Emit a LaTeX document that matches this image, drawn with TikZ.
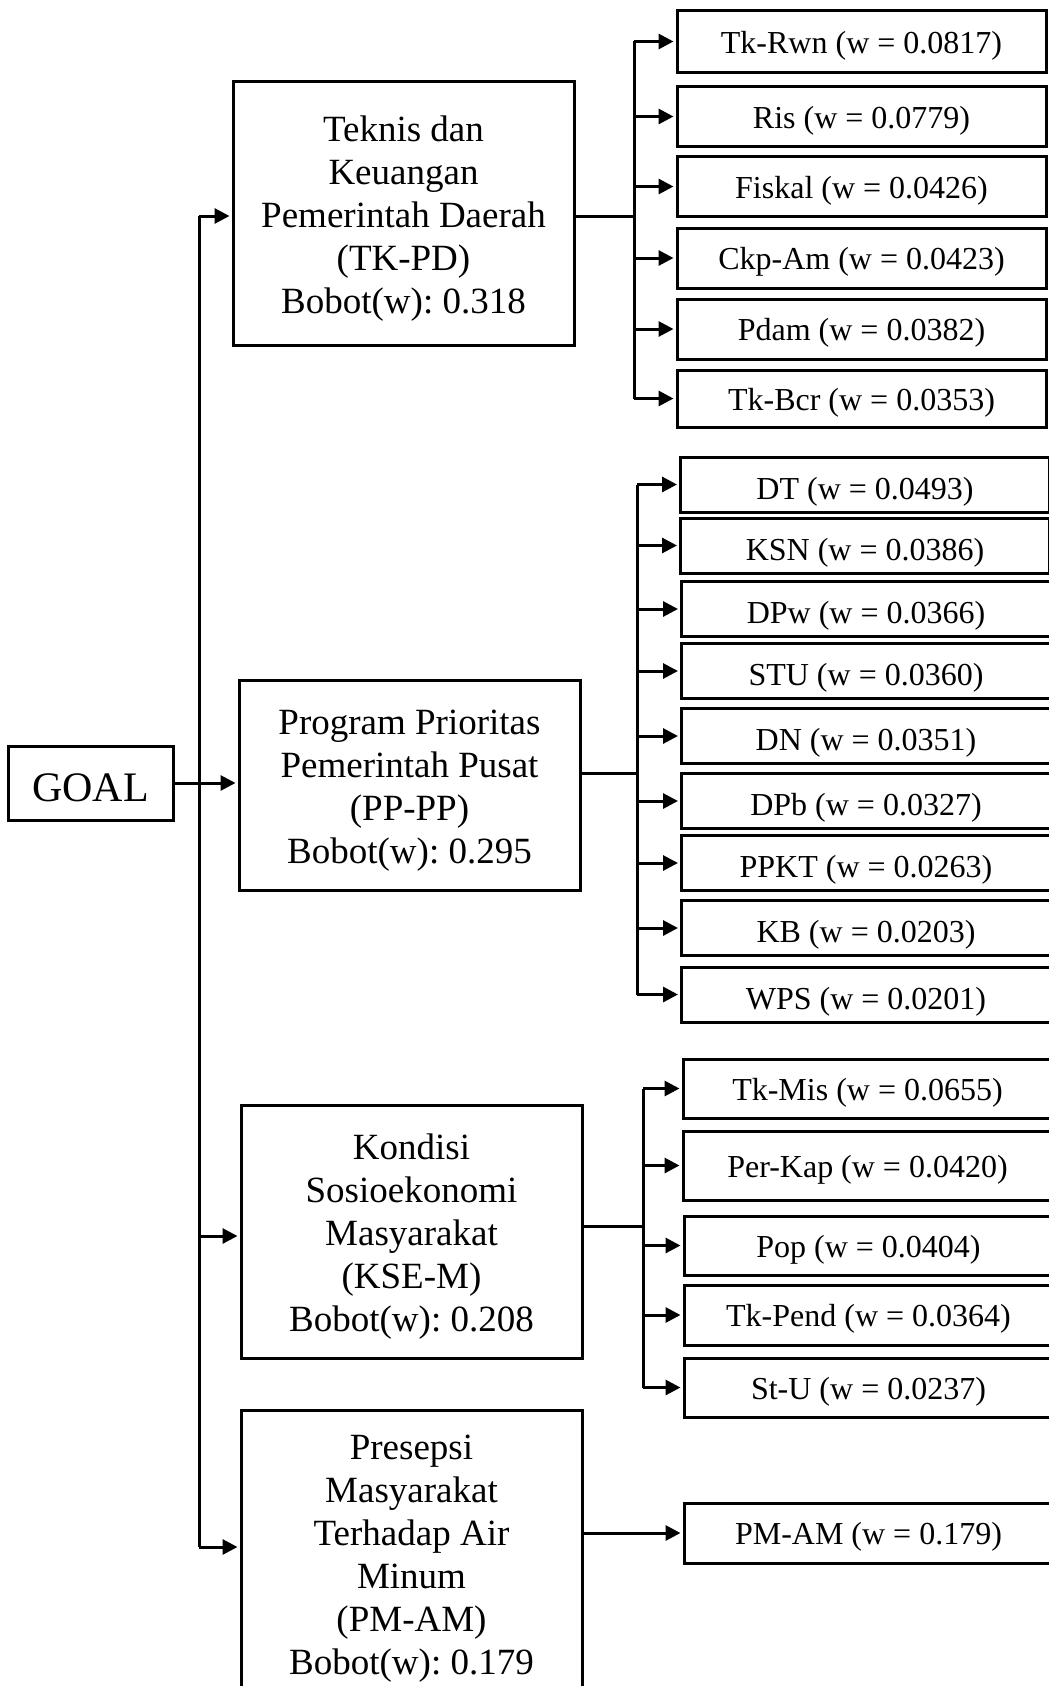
\documentclass[tikz,border=0pt]{standalone}
\usepackage{fontspec}
\setmainfont{Liberation Serif}
\usetikzlibrary{arrows.meta}
\frenchspacing
% text sits a little below the geometric centre of each box
\newcommand\lowtext[2][5pt]{\raisebox{-#1}[\height][\depth]{#2}}
\newcommand\linestack[1]{\lowtext[5.5pt]{\begin{tabular}{@{}c@{}}#1\end{tabular}}}
\begin{document}
\begin{tikzpicture}[x=1pt,y=-1pt,
  mainbox/.style={draw, line width=3pt, inner sep=0pt,
    minimum width=341pt, font=\fontsize{37}{43}\selectfont},
  leaf/.style={draw, line width=3pt, inner sep=0pt, minimum width=369pt,
    font=\fontsize{32}{38}\selectfont},
  conn/.style={line width=3pt, line join=miter},
  arr/.style={conn, -{Triangle[length=15pt,width=15pt]}, shorten >=2pt}
]
\useasboundingbox (0,0) rectangle (1049,1686);
\clip (0,0) rectangle (1049,1686);

% goal
\node[draw, line width=3pt, inner sep=0pt, minimum width=165pt, minimum height=74pt,
  font=\fontsize{42}{48}\selectfont] (goal) at (90.5,783) {\lowtext{GOAL}};

% criteria
\node[mainbox, minimum height=264pt] (tkpd) at (403.5,213)
  {\linestack{Teknis dan\\Keuangan\\Pemerintah Daerah\\(TK-PD)\\Bobot(w): 0.318}};
\node[mainbox, minimum height=210pt] (pppp) at (409.5,785)
  {\linestack{Program Prioritas\\Pemerintah Pusat\\(PP-PP)\\Bobot(w): 0.295}};
\node[mainbox, minimum height=253pt] (ksem) at (411.5,1231.5)
  {\linestack{Kondisi\\Sosioekonomi\\Masyarakat\\(KSE-M)\\Bobot(w): 0.208}};
\node[mainbox, minimum height=286pt] (pmam) at (411.5,1553)
  {\linestack{Presepsi\\Masyarakat\\Terhadap Air\\Minum\\(PM-AM)\\Bobot(w): 0.179}};

% trunk from goal to the criteria
\coordinate (t1) at (199,216);
\coordinate (t3) at (199,1236);
\coordinate (t4) at (199,1547);
\draw[conn] (t1) -- (t4);
\draw[arr] (goal.east) -- (pppp.west |- goal.east);
\draw[arr] (t1) -- (tkpd.west |- t1);
\draw[arr] (t3) -- (ksem.west |- t3);
\draw[arr] (t4) -- (pmam.west |- t4);

% sub-criteria of TK-PD
\node[leaf, minimum height=62pt] (a1) at (861.5,41.5) {\lowtext[4pt]{Tk-Rwn (w = 0.0817)}};
\node[leaf, minimum height=60pt] (a2) at (861.5,116.5) {\lowtext[4pt]{Ris (w = 0.0779)}};
\node[leaf, minimum height=60pt] (a3) at (861.5,186.5) {\lowtext[4pt]{Fiskal (w = 0.0426)}};
\node[leaf, minimum height=60pt] (a4) at (861.5,258) {\lowtext[4pt]{Ckp-Am (w = 0.0423)}};
\node[leaf, minimum height=60pt] (a5) at (861.5,329) {\lowtext[4pt]{Pdam (w = 0.0382)}};
\node[leaf, minimum height=57pt] (a6) at (861.5,398.5) {\lowtext[4pt]{Tk-Bcr (w = 0.0353)}};
\coordinate (busA) at (634,216);
\draw[conn] (tkpd.east |- busA) -- (busA);
\draw[conn] (a1.west -| busA) -- (a6.west -| busA);
\foreach \n in {a1,a2,a3,a4,a5,a6}
  \draw[arr] (\n.west -| busA) -- (\n.west);

% sub-criteria of PP-PP
\node[leaf, minimum height=55pt] (b1) at (865,484.5) {\lowtext[7pt]{DT (w = 0.0493)}};
\node[leaf, minimum height=55pt] (b2) at (865,545.5) {\lowtext[7pt]{KSN (w = 0.0386)}};
\node[leaf, minimum height=55pt] (b3) at (866,609) {\lowtext[7pt]{DPw (w = 0.0366)}};
\node[leaf, minimum height=55pt] (b4) at (866,671) {\lowtext[7pt]{STU (w = 0.0360)}};
\node[leaf, minimum height=55pt] (b5) at (866,736) {\lowtext[7pt]{DN (w = 0.0351)}};
\node[leaf, minimum height=55pt] (b6) at (866,801) {\lowtext[7pt]{DPb (w = 0.0327)}};
\node[leaf, minimum height=55pt] (b7) at (866,863) {\lowtext[7pt]{PPKT (w = 0.0263)}};
\node[leaf, minimum height=55pt] (b8) at (866,928) {\lowtext[7pt]{KB (w = 0.0203)}};
\node[leaf, minimum height=55pt] (b9) at (866,994.5) {\lowtext[7pt]{WPS (w = 0.0201)}};
\coordinate (busB) at (637,773);
\draw[conn] (pppp.east |- busB) -- (busB);
\draw[conn] (b1.west -| busB) -- (b9.west -| busB);
\foreach \n in {b1,b2,b3,b4,b5,b6,b7,b8,b9}
  \draw[arr] (\n.west -| busB) -- (\n.west);

% sub-criteria of KSE-M
\node[leaf, minimum height=59pt] (c1) at (867.5,1088.5) {\lowtext[4pt]{Tk-Mis (w = 0.0655)}};
\node[leaf, minimum height=69pt] (c2) at (867.5,1165.5) {\lowtext[4pt]{Per-Kap (w = 0.0420)}};
\node[leaf, minimum height=59pt] (c3) at (868.5,1245.5) {\lowtext[4pt]{Pop (w = 0.0404)}};
\node[leaf, minimum height=60pt] (c4) at (868.5,1315) {\lowtext[4pt]{Tk-Pend (w = 0.0364)}};
\node[leaf, minimum height=59pt] (c5) at (868.5,1387.5) {\lowtext[4pt]{St-U (w = 0.0237)}};
\coordinate (busC) at (643,1226);
\draw[conn] (ksem.east |- busC) -- (busC);
\draw[conn] (c1.west -| busC) -- (c5.west -| busC);
\foreach \n in {c1,c2,c3,c4,c5}
  \draw[arr] (\n.west -| busC) -- (\n.west);

% sub-criterion of PM-AM
\node[leaf, minimum height=60pt] (d1) at (868.5,1533) {\lowtext[4pt]{PM-AM (w = 0.179)}};
\draw[arr] (pmam.east |- d1.west) -- (d1.west);
\end{tikzpicture}
\end{document}
